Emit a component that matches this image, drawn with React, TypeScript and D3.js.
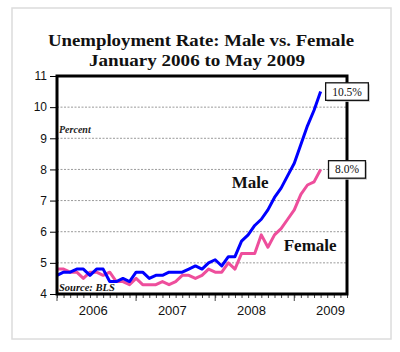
import { useEffect, useRef } from "react";
import * as d3 from "d3";

// x-axis year labels and y ticks
const years = ["2006", "2007", "2008", "2009"];
const yTicks = [4, 5, 6, 7, 8, 9, 10, 11];

// monthly unemployment rate (%), Jan 2006 .. May 2009
const maleRate = [
    4.6, 4.7, 4.7, 4.8, 4.8, 4.6, 4.8, 4.8, 4.4, 4.4, 4.5, 4.4,
    4.7, 4.7, 4.5, 4.6, 4.6, 4.7, 4.7, 4.7, 4.8, 4.9, 4.8, 5.0,
    5.1, 4.9, 5.2, 5.2, 5.7, 5.9, 6.2, 6.4, 6.7, 7.1, 7.4, 7.8,
    8.2, 8.8, 9.4, 9.9, 10.5,
];
const femaleRate = [
    4.8, 4.8, 4.7, 4.7, 4.5, 4.7, 4.7, 4.6, 4.7, 4.4, 4.4, 4.3,
    4.5, 4.3, 4.3, 4.3, 4.4, 4.3, 4.4, 4.6, 4.6, 4.5, 4.6, 4.8,
    4.7, 4.7, 5.0, 4.8, 5.3, 5.3, 5.3, 5.9, 5.5, 5.9, 6.1, 6.4,
    6.7, 7.2, 7.5, 7.6, 8.0,
];
const endLabels = ["10.5%", "8.0%"];

const serif = "'Liberation Serif', 'Times New Roman', serif";
const sans = "'Liberation Sans', Arial, sans-serif";

const App = () => {
    const ref = useRef<SVGSVGElement>(null);

    useEffect(() => {
        const width = 400;
        const height = 352;
        const left = 57;
        const right = 347;
        const top = 76;
        const bottom = 294;

        const x = d3.scaleLinear([0, 44], [left, right]);
        const y = d3.scaleLinear([4, 11], [bottom, top]);

        const svg = d3.select(ref.current);
        svg.selectAll("*").remove();

        svg.append("rect")
            .attr("width", width)
            .attr("height", height)
            .attr("fill", "#fff");

        // outer light border
        svg.append("rect")
            .attr("x", 12)
            .attr("y", 8)
            .attr("width", 379)
            .attr("height", 331)
            .attr("fill", "none")
            .attr("stroke", "#dcdcdc")
            .attr("stroke-width", 1.5);

        // title, stretched to the width of the original's wider face
        svg.append("text")
            .attr("x", 201)
            .attr("y", 46)
            .attr("text-anchor", "middle")
            .attr("font-family", serif)
            .attr("font-weight", "bold")
            .attr("font-size", 17)
            .attr("fill", "#111")
            .attr("textLength", 306)
            .attr("lengthAdjust", "spacingAndGlyphs")
            .text("Unemployment Rate: Male vs. Female");
        svg.append("text")
            .attr("x", 197)
            .attr("y", 66)
            .attr("text-anchor", "middle")
            .attr("font-family", serif)
            .attr("font-weight", "bold")
            .attr("font-size", 17)
            .attr("fill", "#111")
            .attr("textLength", 216)
            .attr("lengthAdjust", "spacingAndGlyphs")
            .text("January 2006 to May 2009");

        // grid lines
        svg.append("g")
            .selectAll("line")
            .data(yTicks.slice(1, -1))
            .join("line")
            .attr("x1", left)
            .attr("x2", right)
            .attr("y1", (d) => y(d))
            .attr("y2", (d) => y(d))
            .attr("stroke", "#9a9a9a")
            .attr("stroke-dasharray", "2,1.5");

        // y axis
        svg.append("g")
            .attr("transform", `translate(${left},0)`)
            .call(d3.axisLeft(y).tickValues(yTicks).tickFormat(d3.format("d")).tickSize(7).tickPadding(3))
            .call((g) => g.select(".domain").remove())
            .call((g) => g.selectAll("text")
                .attr("font-family", sans)
                .attr("font-size", 12)
                .attr("fill", "#111"));

        // x axis: monthly minor ticks, yearly major ticks
        svg.append("g")
            .attr("transform", `translate(0,${bottom})`)
            .call(d3.axisBottom(x).tickValues(d3.range(0, 45)).tickSize(4).tickFormat(() => ""))
            .call((g) => g.select(".domain").remove())
            .call((g) => g.selectAll(".tick line").attr("stroke", "#444"));

        svg.append("g")
            .selectAll("line")
            .data(years)
            .join("line")
            .attr("x1", (d, i) => x(i * 12))
            .attr("x2", (d, i) => x(i * 12))
            .attr("y1", bottom)
            .attr("y2", bottom + 7)
            .attr("stroke", "#444");

        svg.append("g")
            .selectAll("text")
            .data(years)
            .join("text")
            .attr("x", (d, i) => x(i * 12 + 5.5))
            .attr("y", 315)
            .attr("text-anchor", "middle")
            .attr("font-family", sans)
            .attr("font-size", 13)
            .attr("fill", "#111")
            .text((d) => d);

        // lines
        const line = d3.line<number>()
            .x((d, i) => x(i))
            .y((d) => y(d));

        svg.append("path")
            .attr("fill", "none")
            .attr("stroke", "#ee4e9c")
            .attr("stroke-width", 3)
            .attr("stroke-linejoin", "round")
            .attr("d", line(femaleRate));

        svg.append("path")
            .attr("fill", "none")
            .attr("stroke", "#0000ff")
            .attr("stroke-width", 3)
            .attr("stroke-linejoin", "round")
            .attr("d", line(maleRate));

        // frame
        svg.append("rect")
            .attr("x", left)
            .attr("y", top)
            .attr("width", right - left)
            .attr("height", bottom - top)
            .attr("fill", "none")
            .attr("stroke", "#000")
            .attr("stroke-width", 3);

        // annotations
        svg.append("text")
            .attr("x", left + 2)
            .attr("y", y(9.17))
            .attr("font-family", serif)
            .attr("font-style", "italic")
            .attr("font-weight", "bold")
            .attr("font-size", 10)
            .attr("fill", "#222")
            .text("Percent");

        svg.append("text")
            .attr("x", left + 2)
            .attr("y", y(4.1))
            .attr("font-family", serif)
            .attr("font-style", "italic")
            .attr("font-weight", "bold")
            .attr("font-size", 10.5)
            .attr("fill", "#111")
            .text("Source: BLS");

        svg.append("text")
            .attr("x", x(26.5))
            .attr("y", y(7.4))
            .attr("font-family", serif)
            .attr("font-weight", "bold")
            .attr("font-size", 17)
            .attr("fill", "#111")
            .text("Male");

        svg.append("text")
            .attr("x", x(34.4))
            .attr("y", y(5.38))
            .attr("font-family", serif)
            .attr("font-weight", "bold")
            .attr("font-size", 17)
            .attr("fill", "#111")
            .text("Female");

        // end value boxes
        const lasts = [maleRate[maleRate.length - 1], femaleRate[femaleRate.length - 1]];
        lasts.forEach((v, i) => {
            const g = svg.append("g").attr("transform", `translate(${right},${y(v)})`);
            const shadow = g.append("rect");
            const box = g.append("rect");
            const t = g.append("text")
                .attr("text-anchor", "middle")
                .attr("dy", "0.35em")
                .attr("font-family", serif)
                .attr("font-size", 11.5)
                .attr("fill", "#111")
                .text(endLabels[i]);
            const w = (t.node() as SVGTextElement).getComputedTextLength() + 13;
            const h = 17.5;
            shadow.attr("x", -w / 2 + 1.5).attr("y", -h / 2 + 1.5)
                .attr("width", w).attr("height", h).attr("fill", "#c8c8c8");
            box.attr("x", -w / 2).attr("y", -h / 2)
                .attr("width", w).attr("height", h)
                .attr("fill", "#fff").attr("stroke", "#111").attr("stroke-width", 1.3);
        });
    }, []);

    return (
        <svg
            ref={ref}
            width={400}
            height={352}
            style={{ position: "absolute", left: 0, top: 0 }}
        />
    );
};

export default App;
